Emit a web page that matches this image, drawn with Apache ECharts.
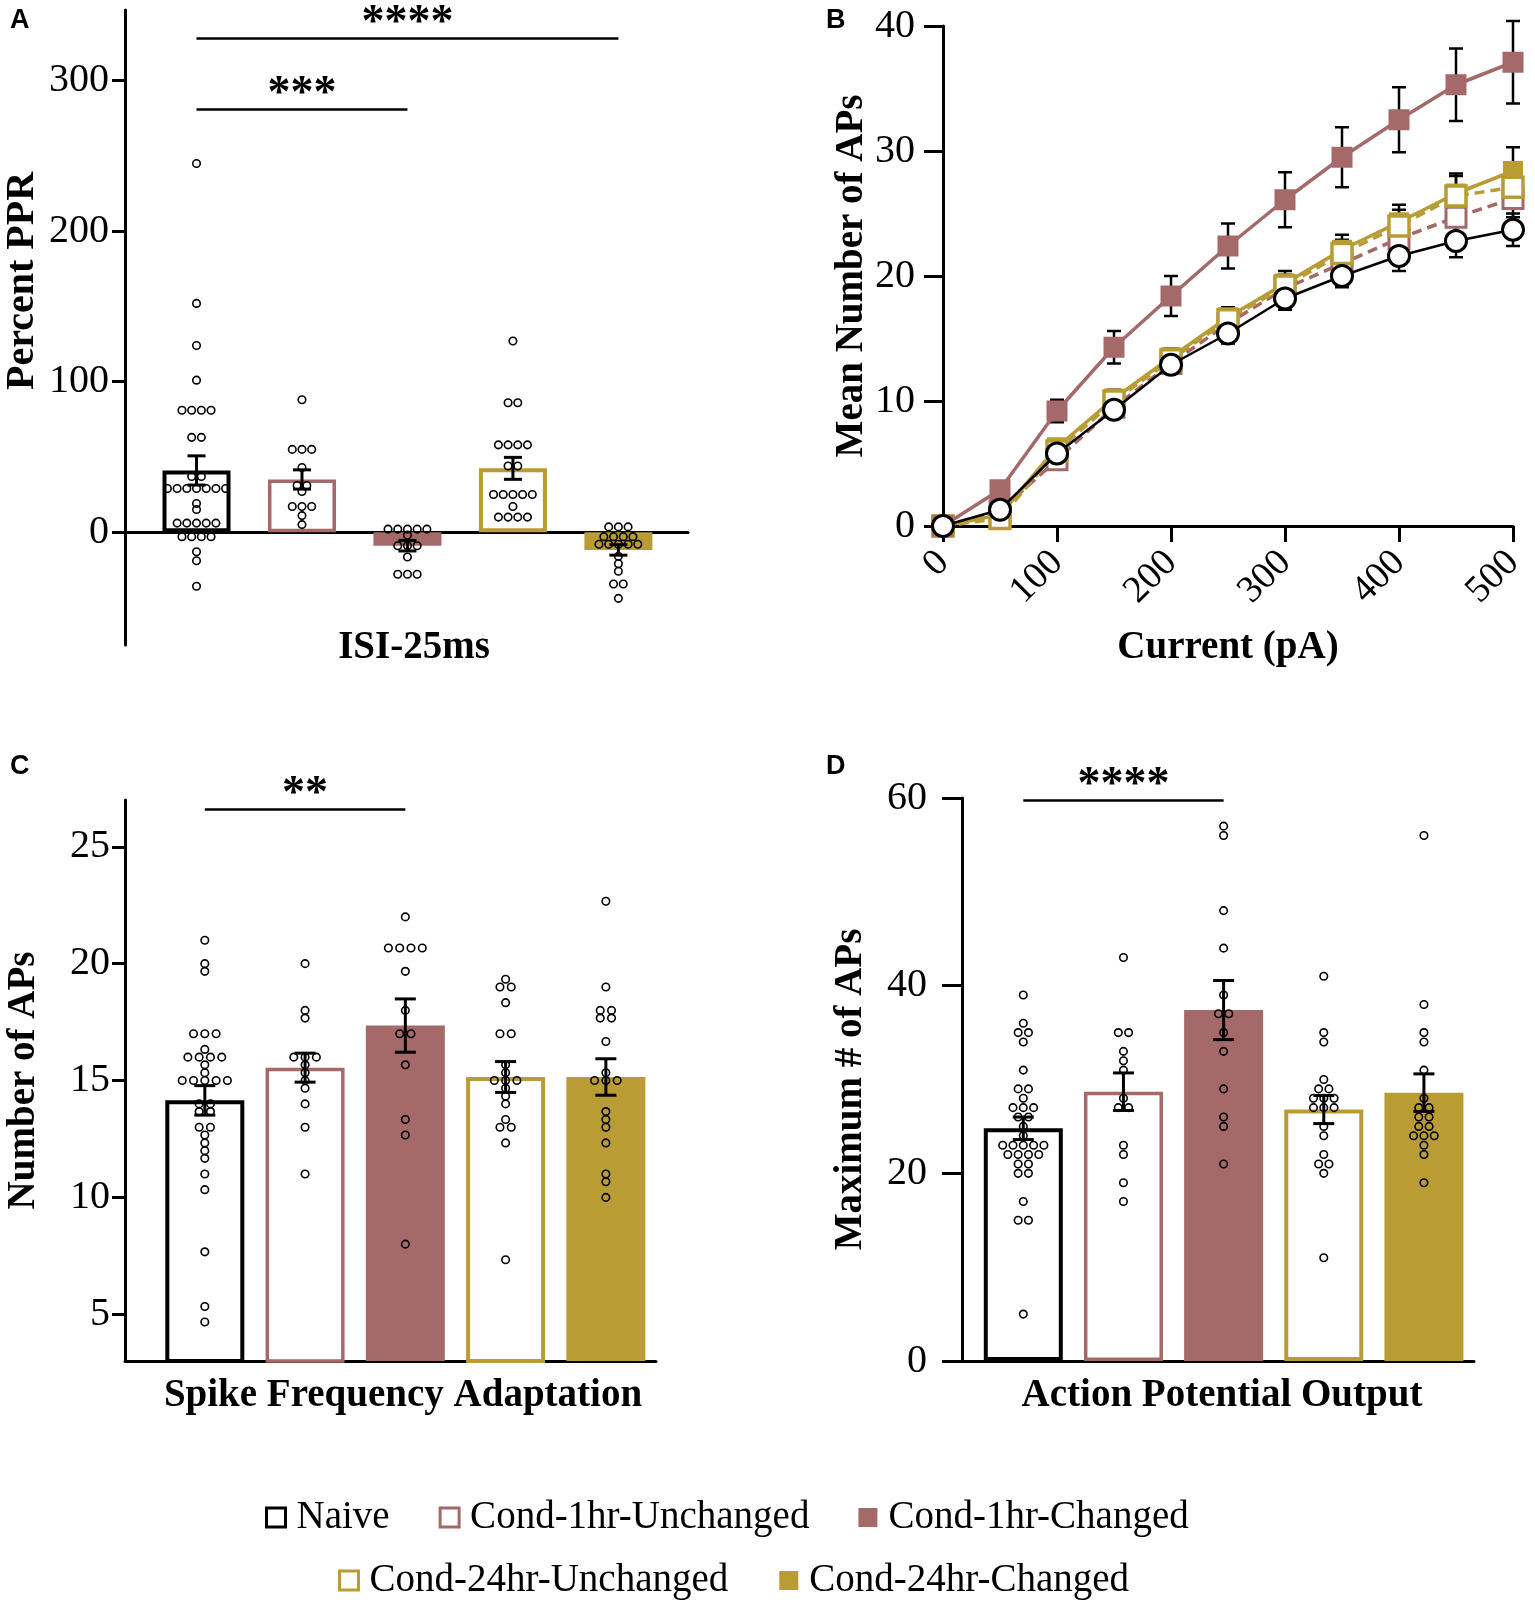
<!DOCTYPE html>
<html><head><meta charset="utf-8">
<script src="https://cdn.jsdelivr.net/npm/echarts@6/dist/echarts.min.js"></script>
<style>html,body{margin:0;padding:0;background:#fff}#c{width:1535px;height:1604px}</style>
</head><body><div id="c"></div>
<script>
// ---------------- DATA ----------------
const groups = ['Naive', 'Cond-1hr-Unchanged', 'Cond-1hr-Changed', 'Cond-24hr-Unchanged', 'Cond-24hr-Changed'];

// Panel A: Percent PPR (ISI-25ms)
const pprMean = [41, 35, -9, 42.4, -11.8];
const pprSem = [9.7, 6.4, 3.5, 7.3, 3.5];
const pprNaive = [245, 152, 124, 101, 81, 81, 81, 81, 63, 63, 37, 37, 29, 29, 29, 29, 29, 29, 29, 19, 15, 6, 6, 6, 6, 6, -3, -3, -3, -3, -13, -19, -36];
const ppr1hrUnch = [88, 55, 55, 55, 43, 31, 31, 27, 17, 17, 17, 11, 5];
const ppr1hrCh = [2, 2, 2, 2, 2, -2, -9, -9, -9, -16.5, -28, -28, -28];
const ppr24hrUnch = [127, 86, 86, 58, 58, 58, 58, 44, 44, 25, 25, 25, 25, 25, 17, 10, 10, 10, 10];
const ppr24hrCh = [3.5, 3.5, 3.5, -3, -3, -3, -3, -8, -8, -8, -8, -8, -16, -21, -26, -34.5, -34.5, -44];
const pprTicks = [0, 100, 200, 300];
const sigA = [{from: 0, to: 4, y: 328, text: '****'}, {from: 0, to: 2, y: 281, text: '***'}];

// Panel B: Mean number of APs vs current
const currents = [0, 50, 100, 150, 200, 250, 300, 350, 400, 450, 500];
const apsNaive = [0, 1.3, 5.8, 9.3, 12.9, 15.4, 18.2, 20.0, 21.6, 22.8, 23.7];
const apsNaiveErr = [0, 0.4, 0.6, 0.6, 0.6, 0.8, 0.9, 0.9, 1.2, 1.3, 1.3];
const aps1hrUnch = [0, 1.2, 5.3, 9.5, 13.0, 16.2, 19.0, 21.0, 23.0, 24.7, 26.2];
const aps1hrUnchErr = [0, 0.3, 0.6, 0.7, 0.8, 0.9, 1.0, 1.0, 1.2, 1.4, 1.5];
const aps1hrCh = [0, 2.9, 9.2, 14.3, 18.4, 22.4, 26.1, 29.5, 32.5, 35.3, 37.1];
const aps1hrChErr = [0, 0.4, 0.9, 1.3, 1.6, 1.8, 2.2, 2.4, 2.6, 2.9, 3.3];
const aps24hrUnch = [0, 0.6, 6.0, 10.0, 13.3, 16.5, 19.2, 21.8, 24.0, 26.4, 27.1];
const aps24hrUnchErr = [0, 0.3, 0.5, 0.6, 0.7, 0.8, 0.9, 1.1, 1.3, 1.6, 1.7];
const aps24hrCh = [0, 0.9, 6.3, 10.2, 13.5, 16.7, 19.4, 22.1, 24.3, 26.6, 28.4];
const aps24hrChErr = [0, 0.3, 0.6, 0.7, 0.7, 0.8, 1.0, 1.2, 1.4, 1.6, 1.9];

// Panel C: Spike frequency adaptation (Number of APs)
const sfaMean = [14.15, 15.55, 17.35, 15.15, 15.15];
const sfaSem = [0.63, 0.62, 1.14, 0.66, 0.78];
const sfaNaive = [21, 20, 19.67, 17, 17, 17, 16.33, 16, 16, 16, 16, 15.67, 15.33, 15, 15, 15, 15, 15, 14, 14, 13.67, 13.67, 13, 13, 12.67, 12.33, 12, 11.67, 11, 10.33, 7.67, 5.33, 4.67];
const sfa1hrUnch = [20, 18, 17.67, 16, 16, 16, 15.67, 15.33, 15, 14.67, 14, 13, 11];
const sfa1hrCh = [22, 20.67, 20.67, 20.67, 20.67, 19.67, 18, 17, 17, 15.67, 13.33, 12.67, 8];
const sfa24hrUnch = [19.33, 19, 19, 18.33, 17, 17, 15.67, 15.33, 15, 15, 15, 14.67, 14.33, 14, 13.33, 13, 13, 12.33, 7.33];
const sfa24hrCh = [22.67, 19, 18, 18, 17.67, 17.67, 16.67, 15.33, 15, 15, 15, 13.67, 13.33, 13, 12.33, 11, 10.67, 10];
const sfaTicks = [5, 10, 15, 20, 25];
const sigC = [{from: 0, to: 2, y: 26.6, text: '**'}];

// Panel D: Action potential output (Maximum # of APs)
const apoMean = [24.8, 28.7, 37.4, 26.8, 28.6];
const apoSem = [1.2, 2.0, 3.15, 1.5, 2.0];
const apoNaive = [39, 36, 35, 35, 34, 31, 29, 29, 28, 27, 27, 27, 26, 26, 25, 24, 23, 23, 23, 23, 23, 22, 22, 22, 22, 21, 21, 20, 20, 17, 15, 15, 5];
const apo1hrUnch = [43, 35, 35, 33, 32, 31, 28, 27, 27, 23, 22, 19, 17];
const apo1hrCh = [57, 56, 48, 44, 39, 37, 37, 35, 33, 29, 26, 25, 21];
const apo24hrUnch = [41, 35, 34, 30, 29, 29, 28, 28, 28, 27, 27, 27, 25, 24, 22, 21, 21, 20, 11];
const apo24hrCh = [56, 38, 35, 34, 31, 28, 27, 27, 26, 26, 25, 25, 24, 24, 24, 23, 22, 19];
const sigD = [{from: 0, to: 2, y: 59.8, text: '****'}];

// ---------------- STYLE ----------------
const MAUVE = '#a5696a', GOLD = '#b99c34';
const SERIF = '"Liberation Serif","Times New Roman",serif';
const groupStyles = [
  {color: '#ffffff', borderColor: '#000000', borderWidth: 4},
  {color: '#ffffff', borderColor: MAUVE, borderWidth: 3.5},
  {color: MAUVE, borderColor: MAUVE, borderWidth: 0},
  {color: '#ffffff', borderColor: GOLD, borderWidth: 4},
  {color: GOLD, borderColor: GOLD, borderWidth: 0}
];
const titleStyle = {fontSize: 39, fontWeight: 'bold', color: '#000', fontFamily: SERIF};
function tickLabel(margin, extra) {
  return Object.assign({fontSize: 40, color: '#000', fontFamily: SERIF, margin: margin}, extra || {});
}
function tickStyle(len, extra) {
  return Object.assign({show: true, length: len, lineStyle: {color: '#000', width: 3}}, extra || {});
}
const axisLineX = {show: true, onZero: true, lineStyle: {color: '#000', width: 3}};
const axisLineY = {show: true, onZero: false, lineStyle: {color: '#000', width: 3}};

// ---------------- HELPERS ----------------
function swarm(values, step) {
  const counts = {}, seen = {};
  values.forEach(v => { counts[v] = (counts[v] || 0) + 1; });
  return values.map(v => {
    seen[v] = seen[v] === undefined ? 0 : seen[v] + 1;
    return (seen[v] - (counts[v] - 1) / 2) * step;
  });
}
function dots(groupArrays, step) {
  const out = [];
  groupArrays.forEach((arr, g) => {
    const off = swarm(arr, step);
    arr.forEach((v, k) => out.push({value: [g, v], symbolOffset: [off[k], 0]}));
  });
  return out;
}
function errRender(capHalf, lw) {
  return function (params, api) {
    const x = api.value(0), m = api.value(1), e = api.value(2);
    if (!e) return null;
    const t = api.coord([x, m + e]), b = api.coord([x, m - e]);
    const st = {stroke: '#000', lineWidth: lw};
    return {type: 'group', children: [
      {type: 'line', shape: {x1: t[0], y1: t[1], x2: b[0], y2: b[1]}, style: st},
      {type: 'line', shape: {x1: t[0] - capHalf, y1: t[1], x2: t[0] + capHalf, y2: t[1]}, style: st},
      {type: 'line', shape: {x1: b[0] - capHalf, y1: b[1], x2: b[0] + capHalf, y2: b[1]}, style: st}
    ]};
  };
}
function sigLines(sig) {
  return {
    symbol: ['none', 'none'], silent: true,
    lineStyle: {color: '#000', width: 2.5, type: 'solid'},
    label: {show: true, position: 'middle', formatter: '{b}', fontSize: 46, fontWeight: 'bold', color: '#000', fontFamily: SERIF, distance: -9},
    emphasis: {disabled: true},
    data: sig.map(s => [{coord: [s.from, s.y], name: s.text}, {coord: [s.to, s.y], name: s.text}])
  };
}

const series = [];
function barPanel(idx, means, sems, groupArrays, barW, step, sig, capHalf) {
  groups.forEach((g, i) => {
    const s = {
      type: 'bar', name: g, xAxisIndex: idx, yAxisIndex: idx, barWidth: barW, barGap: '-100%',
      data: [[i, means[i]]], itemStyle: groupStyles[i], z: 2, silent: true
    };
    if (i === 0) s.markLine = sigLines(sig);
    series.push(s);
  });
  series.push({
    type: 'scatter', name: 'points' + idx, xAxisIndex: idx, yAxisIndex: idx, data: dots(groupArrays, step),
    symbol: 'circle', symbolSize: 7.5, silent: true, z: 3,
    itemStyle: {color: 'rgba(255,255,255,0)', borderColor: '#000', borderWidth: 1.6, opacity: 1}
  });
  series.push({
    type: 'custom', name: 'sem' + idx, xAxisIndex: idx, yAxisIndex: idx, z: 4, silent: true,
    data: means.map((m, i) => [i, m, sems[i]]), renderItem: errRender(capHalf, 3)
  });
}

barPanel(0, pprMean, pprSem, [pprNaive, ppr1hrUnch, ppr1hrCh, ppr24hrUnch, ppr24hrCh], 68, 9.7, sigA, 9);
barPanel(2, sfaMean, sfaSem, [sfaNaive, sfa1hrUnch, sfa1hrCh, sfa24hrUnch, sfa24hrCh], 79, 11.3, sigC, 10.5);
barPanel(3, apoMean, apoSem, [apoNaive, apo1hrUnch, apo1hrCh, apo24hrUnch, apo24hrCh], 79, 10.3, sigD, 10.5);

// Panel B lines
const lineDefs = [
  {name: groups[1], vals: aps1hrUnch, err: aps1hrUnchErr, color: MAUVE, dash: [10, 6], symbol: 'rect', size: 20, fill: '#fff', bw: 3, z: 3},
  {name: groups[4], vals: aps24hrCh, err: aps24hrChErr, color: GOLD, dash: 'solid', symbol: 'rect', size: 20, fill: GOLD, bw: 0, z: 4},
  {name: groups[3], vals: aps24hrUnch, err: aps24hrUnchErr, color: GOLD, dash: [10, 6], symbol: 'rect', size: 20, fill: '#fff', bw: 3.5, z: 5},
  {name: groups[2], vals: aps1hrCh, err: aps1hrChErr, color: MAUVE, dash: 'solid', symbol: 'rect', size: 21, fill: MAUVE, bw: 0, z: 6},
  {name: groups[0], vals: apsNaive, err: apsNaiveErr, color: '#000', dash: 'solid', symbol: 'circle', size: 21, fill: '#fff', bw: 3, z: 7, lw: 2.5}
];
lineDefs.forEach(d => {
  series.push({
    type: 'custom', name: 'err ' + d.name, xAxisIndex: 1, yAxisIndex: 1, z: 2, silent: true,
    data: currents.map((c, i) => [c, d.vals[i], d.err[i]]), renderItem: errRender(7, 2.5)
  });
  series.push({
    type: 'line', name: d.name, xAxisIndex: 1, yAxisIndex: 1, z: d.z, clip: false, silent: true,
    data: currents.map((c, i) => [c, d.vals[i]]),
    symbol: d.symbol, symbolSize: d.size, showAllSymbol: true,
    lineStyle: {color: d.color, width: d.lw || 3.5, type: d.dash},
    itemStyle: {color: d.fill, borderColor: d.color, borderWidth: d.bw}
  });
});

const legendText = {fontSize: 39, color: '#000', fontFamily: SERIF, padding: [0, 0, 0, 6]};
function legItem(i) {
  const st = groupStyles[i];
  return {name: groups[i], icon: 'rect', itemStyle: {color: st.color, borderColor: st.borderColor, borderWidth: st.borderWidth ? 3 : 0}};
}
const letterFont = 'bold 27px "Liberation Sans"';

const option = {
  animation: false,
  backgroundColor: '#fff',
  grid: [
    {left: 125, top: 10, width: 563, height: 635, outerBoundsMode: 'none'},
    {left: 943, top: 26, width: 570, height: 500, outerBoundsMode: 'none'},
    {left: 125, top: 800, width: 531, height: 561, outerBoundsMode: 'none'},
    {left: 962, top: 798, width: 512, height: 563, outerBoundsMode: 'none'}
  ],
  xAxis: [
    {gridIndex: 0, type: 'value', min: -0.678, max: 4.66, axisLine: axisLineX, axisTick: {show: false}, axisLabel: {show: false}, splitLine: {show: false}},
    {gridIndex: 1, type: 'value', min: 0, max: 500, interval: 100, axisLine: axisLineX, axisTick: tickStyle(16),
     axisLabel: tickLabel(31, {rotate: 45, fontSize: 38}), splitLine: {show: false},
     name: 'Current (pA)', nameLocation: 'middle', nameGap: 102, nameTextStyle: titleStyle},
    {gridIndex: 2, type: 'value', min: -0.796, max: 4.5, axisLine: axisLineX, axisTick: {show: false}, axisLabel: {show: false}, splitLine: {show: false},
     name: 'Spike Frequency Adaptation', nameLocation: 'middle', nameGap: 15, nameTextStyle: Object.assign({}, titleStyle, {padding: [0, 0, 0, 25]})},
    {gridIndex: 3, type: 'value', min: -0.612, max: 4.5, axisLine: axisLineX, axisTick: {show: false}, axisLabel: {show: false}, splitLine: {show: false},
     name: 'Action Potential Output', nameLocation: 'middle', nameGap: 15, nameTextStyle: Object.assign({}, titleStyle, {padding: [0, 0, 0, 8]})}
  ],
  yAxis: [
    {gridIndex: 0, type: 'value', min: -75, max: 347, axisLine: axisLineY,
     axisTick: tickStyle(13, {customValues: pprTicks}), axisLabel: tickLabel(16, {customValues: pprTicks}), splitLine: {show: false}},
    {gridIndex: 1, type: 'value', min: 0, max: 40, interval: 10, axisLine: axisLineY, axisTick: tickStyle(19), axisLabel: tickLabel(28), splitLine: {show: false},
     name: 'Mean Number of APs', nameLocation: 'middle', nameRotate: 90, nameGap: 71, nameTextStyle: titleStyle},
    {gridIndex: 2, type: 'value', min: 3, max: 27, axisLine: axisLineY,
     axisTick: tickStyle(13, {customValues: sfaTicks}), axisLabel: tickLabel(15, {customValues: sfaTicks}), splitLine: {show: false},
     name: 'Number of APs', nameLocation: 'middle', nameRotate: 90, nameGap: 82, nameTextStyle: titleStyle},
    {gridIndex: 3, type: 'value', min: 0, max: 60, interval: 20, axisLine: axisLineY, axisTick: tickStyle(20), axisLabel: tickLabel(35), splitLine: {show: false},
     name: 'Maximum # of APs', nameLocation: 'middle', nameRotate: 90, nameGap: 92, nameTextStyle: Object.assign({}, titleStyle, {padding: [0, 20, 0, 0]})}
  ],
  legend: [
    {data: [legItem(0), legItem(1), legItem(2)], left: 260, top: 1493, itemWidth: 19, itemHeight: 19, itemGap: 49, selectedMode: false, textStyle: legendText},
    {data: [legItem(3), legItem(4)], left: 333, top: 1556, itemWidth: 19, itemHeight: 19, itemGap: 51, selectedMode: false, textStyle: legendText}
  ],
  graphic: [
    {type: 'text', x: 10, y: 7, style: {text: 'A', font: letterFont, fill: '#000'}},
    {type: 'text', x: 826, y: 7, style: {text: 'B', font: letterFont, fill: '#000'}},
    {type: 'text', x: 10, y: 753, style: {text: 'C', font: letterFont, fill: '#000'}},
    {type: 'text', x: 826, y: 753, style: {text: 'D', font: letterFont, fill: '#000'}},
    {type: 'text', x: 23, y: 281, rotation: Math.PI / 2, style: {text: 'Percent PPR', font: 'bold 40px "Liberation Serif"', fill: '#000', align: 'center', verticalAlign: 'middle'}},
    {type: 'text', x: 414, y: 648, style: {text: 'ISI-25ms', font: 'bold 39px "Liberation Serif"', fill: '#000', align: 'center', verticalAlign: 'middle'}}
  ],
  series: series
};

const chart = echarts.init(document.getElementById('c'), null, {width: 1535, height: 1604});
chart.setOption(option);
</script>
</body></html>
